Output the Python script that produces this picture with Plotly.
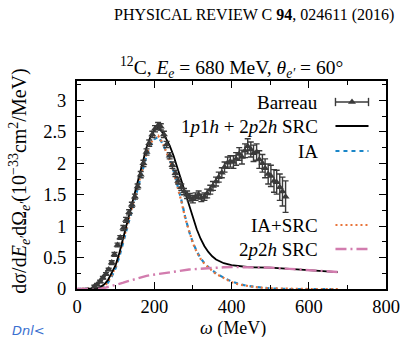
import plotly.graph_objects as go

# ---------------- data ----------------
omega_data = [45, 52, 60, 67, 75, 82, 90, 97, 105, 112, 120, 127, 135, 142, 150, 157, 165, 172, 180, 187,
              195, 202, 210, 217, 225, 232, 240, 247, 255, 262, 270, 277, 285, 292, 300, 307, 315, 322, 330, 337,
              345, 352, 360, 367, 375, 382, 390, 397, 405, 412, 420, 427, 435, 442, 450, 457, 465, 472, 480, 487,
              495, 502, 510, 517, 525, 532, 540]
xs_data = [0.04, 0.07, 0.12, 0.18, 0.24, 0.31, 0.42, 0.55, 0.70, 0.82, 0.97, 1.10, 1.22, 1.34, 1.47, 1.63, 1.82, 2.00, 2.18, 2.32,
           2.46, 2.55, 2.60, 2.58, 2.46, 2.30, 2.12, 1.97, 1.84, 1.72, 1.62, 1.55, 1.50, 1.46, 1.43, 1.47, 1.50, 1.45, 1.47, 1.52,
           1.58, 1.64, 1.71, 1.78, 1.85, 1.94, 2.01, 2.03, 2.02, 2.07, 2.15, 2.10, 2.20, 2.27, 2.22, 2.16, 2.18, 2.06, 2.00, 1.92,
           1.83, 1.80, 1.72, 1.70, 1.62, 1.55, 1.47]
err_data = [0.02, 0.02, 0.02, 0.02, 0.02, 0.02, 0.03, 0.03, 0.03, 0.03, 0.04, 0.04, 0.04, 0.04, 0.04, 0.04, 0.05, 0.05, 0.05, 0.05,
            0.05, 0.05, 0.05, 0.05, 0.05, 0.05, 0.05, 0.05, 0.05, 0.05, 0.05, 0.05, 0.06, 0.06, 0.06, 0.06, 0.06, 0.06, 0.06, 0.07,
            0.07, 0.07, 0.07, 0.08, 0.08, 0.08, 0.09, 0.09, 0.10, 0.10, 0.10, 0.11, 0.11, 0.12, 0.12, 0.13, 0.13, 0.14, 0.14, 0.15,
            0.16, 0.17, 0.18, 0.19, 0.21, 0.23, 0.25]

omega_curve = [0, 20, 40, 50, 60, 70, 80, 90, 100, 110, 120, 130, 140, 150, 160, 170, 180, 190, 200, 210,
               220, 230, 240, 250, 260, 270, 280, 290, 300, 310, 320, 330, 340, 350, 360, 380, 400, 420, 440, 460,
               500, 550, 600, 650, 675]
total_src = [0.0, 0.0, 0.0, 0.01, 0.03, 0.07, 0.14, 0.25, 0.38, 0.58, 0.82, 1.05, 1.28, 1.52, 1.78, 2.03, 2.25, 2.42, 2.53, 2.57,
             2.50, 2.40, 2.28, 2.12, 1.93, 1.73, 1.52, 1.34, 1.14, 0.95, 0.80, 0.68, 0.59, 0.52, 0.47, 0.41, 0.38, 0.36, 0.35, 0.345,
             0.34, 0.32, 0.30, 0.28, 0.27]
ia = [0.0, 0.0, 0.0, 0.005, 0.01, 0.03, 0.10, 0.20, 0.33, 0.52, 0.75, 0.97, 1.18, 1.40, 1.65, 1.90, 2.12, 2.28, 2.38, 2.42,
      2.33, 2.20, 2.06, 1.88, 1.66, 1.42, 1.15, 0.92, 0.74, 0.60, 0.49, 0.41, 0.35, 0.30, 0.25, 0.18, 0.12, 0.08, 0.05, 0.035,
      0.01, 0.0, 0.0, 0.0, 0.0]
ia_src = [0.0, 0.0, 0.0, 0.006, 0.012, 0.035, 0.11, 0.22, 0.36, 0.56, 0.79, 1.01, 1.22, 1.44, 1.69, 1.93, 2.15, 2.31, 2.41, 2.44,
          2.34, 2.20, 2.05, 1.86, 1.64, 1.40, 1.13, 0.91, 0.73, 0.59, 0.48, 0.40, 0.34, 0.29, 0.24, 0.17, 0.11, 0.07, 0.045, 0.03,
          0.01, 0.0, 0.0, 0.0, 0.0]
twop2h = [0.0, 0.0, 0.0, 0.0, 0.005, 0.015, 0.03, 0.045, 0.06, 0.08, 0.10, 0.12, 0.14, 0.16, 0.18, 0.19, 0.21, 0.22, 0.23, 0.24,
          0.25, 0.26, 0.27, 0.28, 0.285, 0.29, 0.30, 0.31, 0.315, 0.32, 0.325, 0.33, 0.335, 0.34, 0.34, 0.345, 0.35, 0.35, 0.35, 0.345,
          0.34, 0.32, 0.30, 0.28, 0.27]

legend_labels = ["Barreau", "1<i>p</i>1<i>h</i> + 2<i>p</i>2<i>h</i> SRC", "IA", "IA+SRC", "2<i>p</i>2<i>h</i> SRC"]
legend_rows_px = [102, 126, 151, 225, 249]

x_ticks = [0, 200, 400, 600, 800]
y_ticks = [0, 0.5, 1, 1.5, 2, 2.5, 3]

# ---------------- styles ----------------
C_DATA = "#3a3a3a"
C_BLUE = "#1a86c8"
C_ORANGE = "#e8743a"
C_PINK = "#d27cae"
FONT = "Liberation Serif"

W, H = 412, 337
L, R, T, B = 77, 17, 81, 48
plot_w, plot_h = W - L - R, H - T - B


def px2paper_y(py):
    return (H - B - py) / plot_h


def px2paper_x(px):
    return (px - L) / plot_w


DASH_BLUE = "4px,4px"
DASH_ORANGE = "2px,3px"
DASH_PINK = "11px,4px,2px,4px"

fig = go.Figure()

fig.add_trace(go.Scatter(x=omega_curve, y=ia, mode="lines",
                         line=dict(color=C_BLUE, width=2.2, dash=DASH_BLUE)))
fig.add_trace(go.Scatter(x=omega_curve, y=ia_src, mode="lines",
                         line=dict(color=C_ORANGE, width=2.2, dash=DASH_ORANGE)))
fig.add_trace(go.Scatter(x=omega_curve, y=total_src, mode="lines",
                         line=dict(color="black", width=1.8)))
fig.add_trace(go.Scatter(x=omega_curve, y=twop2h, mode="lines",
                         line=dict(color=C_PINK, width=2.4, dash=DASH_PINK)))
fig.add_trace(go.Scatter(x=omega_data, y=xs_data, mode="markers",
                         marker=dict(symbol="triangle-up", size=7, color=C_DATA),
                         error_y=dict(type="data", array=err_data, color=C_DATA, thickness=1.4, width=3)))

# legend samples on an overlay axis spanning the plot domain
lx0, lx1 = px2paper_x(343), px2paper_x(377)
ys = [px2paper_y(p) for p in legend_rows_px]
fig.add_trace(go.Scatter(x=[lx0, lx1], y=[ys[0], ys[0]], mode="lines", xaxis="x2", yaxis="y2",
                         line=dict(color=C_DATA, width=1.4)))
fig.add_trace(go.Scatter(x=[(lx0 + lx1) / 2], y=[ys[0]], mode="markers", xaxis="x2", yaxis="y2",
                         marker=dict(symbol="triangle-up", size=7, color=C_DATA)))
for xe in (lx0, lx1):
    fig.add_trace(go.Scatter(x=[xe, xe], y=[ys[0] - 0.02, ys[0] + 0.02], mode="lines", xaxis="x2", yaxis="y2",
                             line=dict(color=C_DATA, width=1.4)))
fig.add_trace(go.Scatter(x=[lx0, lx1], y=[ys[1], ys[1]], mode="lines", xaxis="x2", yaxis="y2",
                         line=dict(color="black", width=1.8)))
fig.add_trace(go.Scatter(x=[lx0, lx1], y=[ys[2], ys[2]], mode="lines", xaxis="x2", yaxis="y2",
                         line=dict(color=C_BLUE, width=2.2, dash=DASH_BLUE)))
fig.add_trace(go.Scatter(x=[lx0, lx1], y=[ys[3], ys[3]], mode="lines", xaxis="x2", yaxis="y2",
                         line=dict(color=C_ORANGE, width=2.2, dash=DASH_ORANGE)))
fig.add_trace(go.Scatter(x=[lx0, lx1], y=[ys[4], ys[4]], mode="lines", xaxis="x2", yaxis="y2",
                         line=dict(color=C_PINK, width=2.4, dash=DASH_PINK)))

annotations = []
for lab, yp in zip(legend_labels, ys):
    annotations.append(dict(text=lab, x=px2paper_x(327), y=yp, xref="paper", yref="paper",
                            xanchor="right", yanchor="middle", showarrow=False,
                            font=dict(family=FONT, size=19, color="black")))

# title
annotations.append(dict(text="<sup>12</sup>C, <i>E<sub>e</sub></i> = 680 MeV, <i>θ<sub>e′</sub></i> = 60°",
                        x=px2paper_x(236), y=px2paper_y(67), xref="paper", yref="paper",
                        xanchor="center", yanchor="middle", showarrow=False,
                        font=dict(family=FONT, size=19.5, color="black")))
# y title
annotations.append(dict(text="dσ/d<i>E<sub>e′</sub></i>dΩ<sub><i>e′</i></sub>(10<sup>−33</sup>cm<sup>2</sup>/MeV)",
                        x=px2paper_x(18), y=px2paper_y(181), xref="paper", yref="paper",
                        xanchor="center", yanchor="middle", textangle=-90, showarrow=False,
                        font=dict(family=FONT, size=20, color="black")))
# x title
annotations.append(dict(text="<i>ω</i> (MeV)", x=px2paper_x(238), y=px2paper_y(328),
                        xref="paper", yref="paper", xanchor="center", yanchor="middle", showarrow=False,
                        font=dict(family=FONT, size=18, color="black")))
# journal header
annotations.append(dict(text="PHYSICAL REVIEW C <b>94</b>, 024611 (2016)", x=px2paper_x(405), y=px2paper_y(15),
                        xref="paper", yref="paper", xanchor="right", yanchor="middle", showarrow=False,
                        font=dict(family=FONT, size=16, color="black")))
# handwritten mark
annotations.append(dict(text="<i>Dnl<</i>", x=px2paper_x(8), y=px2paper_y(330),
                        xref="paper", yref="paper", xanchor="left", yanchor="middle", showarrow=False,
                        font=dict(family="DejaVu Sans", size=13, color="#3a6fd0")))

axis_common = dict(showline=True, linecolor="black", linewidth=2, mirror="ticks", ticks="inside",
                   tickcolor="black", tickwidth=1.3, ticklen=7, showgrid=False, zeroline=False,
                   tickfont=dict(family=FONT, size=18.5, color="black"))

fig.update_layout(
    width=W, height=H, margin=dict(l=L, r=R, t=T, b=B),
    paper_bgcolor="white", plot_bgcolor="white", showlegend=False,
    xaxis=dict(range=[0, 800], tickvals=x_ticks, ticklabelstandoff=0,
               minor=dict(ticks="inside", dtick=100, ticklen=4, tickcolor="black", tickwidth=1.2),
               **axis_common),
    yaxis=dict(range=[0, 3.31], tickvals=y_ticks, ticktext=[("%g" % v) for v in y_ticks], ticklabelstandoff=5,
               minor=dict(ticks="inside", dtick=0.25, ticklen=4, tickcolor="black", tickwidth=1.2),
               **axis_common),
    xaxis2=dict(range=[0, 1], overlaying="x", visible=False, fixedrange=True),
    yaxis2=dict(range=[0, 1], overlaying="y", visible=False, fixedrange=True),
    annotations=annotations,
)

fig.write_html("out.html")
